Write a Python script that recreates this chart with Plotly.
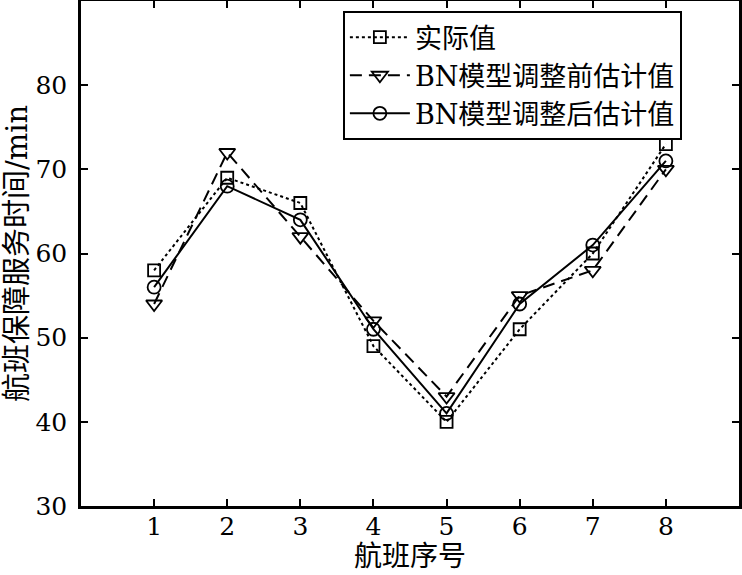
import plotly.graph_objects as go

flights = [1, 2, 3, 4, 5, 6, 7, 8]
actual = [58, 69, 66, 49, 40, 51, 60, 73]
before_adjust = [54, 72, 62, 52, 43, 55, 58, 70]
after_adjust = [56, 68, 64, 51, 41, 54, 61, 71]

names = ['实际值', 'BN模型调整前估计值', 'BN模型调整后估计值']
FONT = 'DejaVu Serif, Noto Sans CJK SC, serif'

fig = go.Figure()
fig.add_trace(go.Scatter(x=flights, y=actual, name=names[0], mode='lines+markers',
                         line=dict(color='black', width=2, dash='dot'),
                         marker=dict(symbol='square-open', size=12, color='black',
                                     line=dict(width=1.8))))
fig.add_trace(go.Scatter(x=flights, y=before_adjust, name=names[1], mode='lines+markers',
                         line=dict(color='black', width=2, dash='12px,7px'),
                         marker=dict(symbol='triangle-down-open', size=14, color='black',
                                     line=dict(width=1.8))))
fig.add_trace(go.Scatter(x=flights, y=after_adjust, name=names[2], mode='lines+markers',
                         line=dict(color='black', width=2),
                         marker=dict(symbol='circle-open', size=13, color='black',
                                     line=dict(width=1.8))))

axis_style = dict(showline=True, linecolor='black', linewidth=2.5, mirror='ticks',
                  ticks='inside', ticklen=7, tickwidth=2, tickcolor='black',
                  showgrid=False, zeroline=False, automargin=False,
                  tickfont=dict(family=FONT, size=25, color='black'))

fig.update_layout({
    'width': 742,
    'height': 575,
    'margin': dict(l=81, r=3, t=1, b=69),
    'paper_bgcolor': 'white',
    'plot_bgcolor': 'white',
    'font': dict(family=FONT, color='black'),
    'showlegend': True,
    'legend': dict(x=0.398, y=0.98, xanchor='left', yanchor='top',
                   bgcolor='white', bordercolor='black', borderwidth=2,
                   itemwidth=60,
                   font=dict(family=FONT, size=27, color='black')),
    'xaxis': dict(range=[0, 9], tickvals=flights, ticklabelstandoff=-4,
                  **axis_style),
    'yaxis': dict(range=[30, 90], tickvals=[30, 40, 50, 60, 70, 80], ticklabelstandoff=6,
                  title=dict(text='航班保障服务时间/min', font=dict(family=FONT, size=29), standoff=10),
                  **axis_style),
})

# x title as an annotation so it sits just under the tick labels
fig.add_annotation(text='航班序号', xref='paper', yref='paper', x=0.5, y=-0.1,
                   xanchor='center', yanchor='middle', showarrow=False,
                   font=dict(family=FONT, size=28, color='black'))

# drop the default page margin so the figure sits at the window corner
fig.write_html('out.html', config={'displayModeBar': False},
               post_script="document.body.style.margin='0';")
